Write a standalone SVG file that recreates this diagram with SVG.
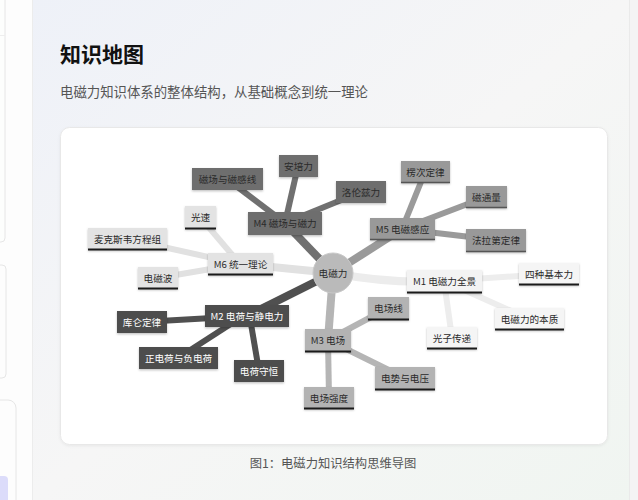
<svg xmlns="http://www.w3.org/2000/svg" width="638" height="500" viewBox="0 0 638 500">
<defs>
<linearGradient id="bg" x1="0" y1="0" x2="1" y2="1">
<stop offset="0" stop-color="#eef1f8"/>
<stop offset="0.5" stop-color="#f6f6f6"/>
<stop offset="1" stop-color="#f0f5f1"/>
</linearGradient>
<filter id="sh" x="-20%" y="-30%" width="140%" height="170%">
<feDropShadow dx="0" dy="1.2" stdDeviation="0.8" flood-color="#000" flood-opacity="0.25"/>
</filter>
<filter id="csh" x="-10%" y="-10%" width="120%" height="120%">
<feDropShadow dx="0" dy="1" stdDeviation="1.5" flood-color="#000" flood-opacity="0.06"/>
</filter>
</defs>
<style>
text{font-family:"Noto Sans CJK SC","Noto Sans",sans-serif;}
.t{font-size:9.6px;text-anchor:middle;dominant-baseline:central;fill:#2a2a2a;}
.tw{fill:#ffffff;}
.ln{fill:none;stroke-linecap:butt;}
.n rect{filter:url(#sh);}
.ul{stroke:#1a1a1a;stroke-width:2;}
</style>
<!-- page background -->
<rect x="0" y="0" width="638" height="500" fill="#fdfdfd"/>
<rect x="32" y="0" width="598" height="500" fill="url(#bg)"/>
<line x1="32.5" y1="0" x2="32.5" y2="500" stroke="#ececec"/>
<rect x="630" y="0" width="8" height="500" fill="#f4f4f4"/>
<line x1="629.5" y1="0" x2="629.5" y2="500" stroke="#eaeaea"/>
<!-- left sidebar cards -->
<path d="M-10 -5 H1 a4 4 0 0 1 4 4 V238 a4 4 0 0 1 -4 4 H-10 Z" fill="#fdfefd" stroke="#e6e6e6"/>
<line x1="0" y1="35.5" x2="5" y2="35.5" stroke="#eeeeee"/>
<path d="M-10 265 H2 a4 4 0 0 1 4 4 V374 a4 4 0 0 1 -4 4 H-10 Z" fill="#fdfdfd" stroke="#e6e6e6"/>
<path d="M-10 400 H8 a8 8 0 0 1 8 8 V510 H-10 Z" fill="#fdfdfd" stroke="#e6e6e6"/>
<rect x="-6" y="476" width="14" height="30" rx="4" fill="#dcdcfa"/>
<!-- header -->
<text x="60" y="62" font-size="21" font-weight="bold" fill="#111">知识地图</text>
<text x="60" y="97" font-size="13.4" fill="#555">电磁力知识体系的整体结构，从基础概念到统一理论</text>
<!-- card -->
<rect x="60.5" y="127.5" width="547" height="317" rx="9" fill="#ffffff" stroke="#e8e8e8" filter="url(#csh)"/>
<text x="333" y="468" font-size="12.3" fill="#555" text-anchor="middle">图1：电磁力知识结构思维导图</text>

<!-- connectors -->
<g id="connectors" class="ln">
<!-- M1 -->
<path d="M333 273 Q390 284 444 281" stroke="#ececec" stroke-width="8"/>
<line x1="444" y1="281" x2="549" y2="274" stroke="#ededed" stroke-width="6"/>
<line x1="444" y1="281" x2="529" y2="319" stroke="#ededed" stroke-width="6"/>
<line x1="444" y1="281" x2="452" y2="338" stroke="#ededed" stroke-width="6"/>
<!-- M6 -->
<line x1="333" y1="273" x2="240" y2="264" stroke="#e1e1e1" stroke-width="8"/>
<line x1="240" y1="264" x2="200" y2="217" stroke="#e1e1e1" stroke-width="6"/>
<line x1="240" y1="264" x2="127" y2="239" stroke="#e1e1e1" stroke-width="6"/>
<line x1="240" y1="264" x2="158" y2="278" stroke="#e1e1e1" stroke-width="6"/>
<!-- M3 -->
<line x1="333" y1="273" x2="328" y2="340" stroke="#b5b5b5" stroke-width="8"/>
<line x1="328" y1="340" x2="388" y2="308" stroke="#b5b5b5" stroke-width="6"/>
<line x1="328" y1="340" x2="405" y2="378" stroke="#b5b5b5" stroke-width="6"/>
<line x1="328" y1="340" x2="329" y2="398" stroke="#b5b5b5" stroke-width="6"/>
<!-- M5 -->
<line x1="333" y1="273" x2="402" y2="229" stroke="#9a9a9a" stroke-width="8"/>
<line x1="402" y1="229" x2="425" y2="172" stroke="#9a9a9a" stroke-width="6"/>
<line x1="402" y1="229" x2="486" y2="197" stroke="#9a9a9a" stroke-width="6"/>
<line x1="402" y1="229" x2="496" y2="240" stroke="#9a9a9a" stroke-width="6"/>
<!-- M4 -->
<line x1="333" y1="273" x2="285" y2="223" stroke="#707070" stroke-width="8"/>
<line x1="285" y1="223" x2="227" y2="179" stroke="#707070" stroke-width="6"/>
<line x1="285" y1="223" x2="298" y2="166" stroke="#707070" stroke-width="6"/>
<line x1="285" y1="223" x2="361" y2="192" stroke="#707070" stroke-width="6"/>
<!-- M2 -->
<line x1="333" y1="273" x2="247" y2="316" stroke="#505050" stroke-width="8"/>
<line x1="247" y1="316" x2="142" y2="322" stroke="#505050" stroke-width="6"/>
<line x1="240" y1="318" x2="178" y2="358" stroke="#505050" stroke-width="6"/>
<line x1="250" y1="318" x2="259" y2="371" stroke="#505050" stroke-width="6"/>
</g>

<!-- root -->
<g id="root">
<circle cx="333" cy="273" r="20" fill="#bababa" stroke="#c8c8c8" stroke-width="1"/>
<text class="t" x="333" y="273">电磁力</text>
</g>

<!-- M1 -->
<g id="m1" class="n"><rect x="407" y="270" width="75" height="23" fill="#f3f3f3"/><line class="ul" x1="407" y1="292.5" x2="482" y2="292.5"/><text class="t" x="444.5" y="281">M1 电磁力全景</text></g>
<g id="m1a" class="n"><rect x="519" y="263" width="60" height="22" fill="#f5f5f5"/><line class="ul" x1="519" y1="284.5" x2="579" y2="284.5"/><text class="t" x="549" y="273.5">四种基本力</text></g>
<g id="m1b" class="n"><rect x="495" y="308" width="69" height="22" fill="#f5f5f5"/><line class="ul" x1="495" y1="329.5" x2="564" y2="329.5"/><text class="t" x="529.5" y="318.5">电磁力的本质</text></g>
<g id="m1c" class="n"><rect x="427" y="327" width="50" height="22" fill="#f5f5f5"/><line class="ul" x1="427" y1="348.5" x2="477" y2="348.5"/><text class="t" x="452" y="337.5">光子传递</text></g>

<!-- M2 -->
<g id="m2" class="n"><rect x="205" y="305" width="84" height="22" fill="#4e4e4e"/><text class="t tw" x="247" y="315.5">M2 电荷与静电力</text></g>
<g id="m2a" class="n"><rect x="117" y="311" width="50" height="22" fill="#4e4e4e"/><text class="t tw" x="142" y="321.5">库仑定律</text></g>
<g id="m2b" class="n"><rect x="139" y="347" width="79" height="22" fill="#4e4e4e"/><text class="t tw" x="178.5" y="357.5">正电荷与负电荷</text></g>
<g id="m2c" class="n"><rect x="234" y="360" width="50" height="22" fill="#4e4e4e"/><text class="t tw" x="259" y="370.5">电荷守恒</text></g>

<!-- M3 -->
<g id="m3" class="n"><rect x="305" y="329" width="46" height="23" fill="#b3b3b3"/><line class="ul" x1="305" y1="351.5" x2="351" y2="351.5"/><text class="t" x="328" y="340">M3 电场</text></g>
<g id="m3a" class="n"><rect x="368" y="297" width="41" height="23" fill="#b3b3b3"/><line class="ul" x1="368" y1="319.5" x2="409" y2="319.5"/><text class="t" x="388.5" y="308">电场线</text></g>
<g id="m3b" class="n"><rect x="375" y="367" width="60" height="23" fill="#b3b3b3"/><line class="ul" x1="375" y1="389.5" x2="435" y2="389.5"/><text class="t" x="405" y="378">电势与电压</text></g>
<g id="m3c" class="n"><rect x="304" y="387" width="50" height="22" fill="#b3b3b3"/><line class="ul" x1="304" y1="408.5" x2="354" y2="408.5"/><text class="t" x="329" y="397.5">电场强度</text></g>

<!-- M4 -->
<g id="m4" class="n"><rect x="248" y="212" width="74" height="23" fill="#6e6e6e"/><text class="t" x="285" y="223">M4 磁场与磁力</text></g>
<g id="m4a" class="n"><rect x="192" y="168" width="71" height="22" fill="#6e6e6e"/><text class="t" x="227.5" y="178.5">磁场与磁感线</text></g>
<g id="m4b" class="n"><rect x="279" y="155" width="39" height="22" fill="#6e6e6e"/><text class="t" x="298.5" y="165.5">安培力</text></g>
<g id="m4c" class="n"><rect x="336" y="181" width="50" height="22" fill="#6e6e6e"/><text class="t" x="361" y="191.5">洛伦兹力</text></g>

<!-- M5 -->
<g id="m5" class="n"><rect x="370" y="218" width="65" height="22" fill="#999999"/><line x1="370" y1="239.5" x2="435" y2="239.5" stroke="#555" stroke-width="1.5"/><text class="t" x="402.5" y="228.5">M5 电磁感应</text></g>
<g id="m5a" class="n"><rect x="401" y="161" width="49" height="22" fill="#999999"/><line x1="401" y1="182.5" x2="450" y2="182.5" stroke="#555" stroke-width="1.5"/><text class="t" x="425.5" y="171.5">楞次定律</text></g>
<g id="m5b" class="n"><rect x="466" y="186" width="41" height="22" fill="#999999"/><line x1="466" y1="207.5" x2="507" y2="207.5" stroke="#555" stroke-width="1.5"/><text class="t" x="486.5" y="196.5">磁通量</text></g>
<g id="m5c" class="n"><rect x="466" y="229" width="60" height="23" fill="#999999"/><line x1="466" y1="251.5" x2="526" y2="251.5" stroke="#555" stroke-width="1.5"/><text class="t" x="496" y="240">法拉第定律</text></g>

<!-- M6 -->
<g id="m6" class="n"><rect x="208" y="253" width="65" height="22" fill="#e3e3e3"/><line class="ul" x1="208" y1="274.5" x2="273" y2="274.5"/><text class="t" x="240.5" y="263.5">M6 统一理论</text></g>
<g id="m6a" class="n"><rect x="185" y="206" width="31" height="23" fill="#e3e3e3"/><line class="ul" x1="185" y1="228.5" x2="216" y2="228.5"/><text class="t" x="200.5" y="217">光速</text></g>
<g id="m6b" class="n"><rect x="88" y="228" width="79" height="22" fill="#e3e3e3"/><line class="ul" x1="88" y1="249.5" x2="167" y2="249.5"/><text class="t" x="127.5" y="238.5">麦克斯韦方程组</text></g>
<g id="m6c" class="n"><rect x="138" y="267" width="40" height="22" fill="#e3e3e3"/><line class="ul" x1="138" y1="288.5" x2="178" y2="288.5"/><text class="t" x="158" y="277.5">电磁波</text></g>
</svg>
